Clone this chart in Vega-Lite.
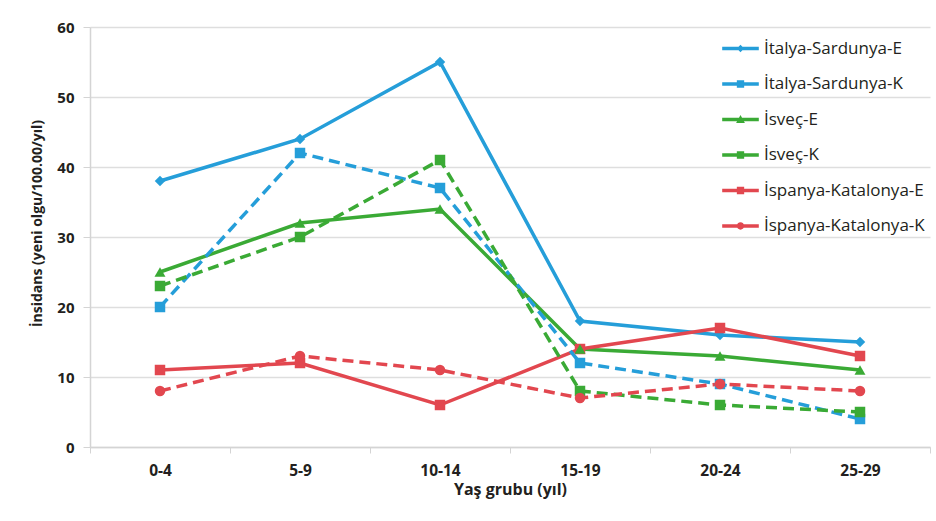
{
  "$schema": "https://vega.github.io/schema/vega-lite/v6.json",
  "width": 840,
  "height": 420,
  "autosize": {"type": "none"},
  "padding": {"left": 90, "top": 27, "right": 6, "bottom": 74},
  "background": "white",
  "config": {
    "font": "Open Sans",
    "view": {"stroke": null},
    "axis": {
      "labelFont": "Open Sans",
      "titleFont": "Open Sans",
      "labelColor": "#231f20",
      "titleColor": "#231f20",
      "labelFontWeight": "bold",
      "titleFontWeight": "bold",
      "domainColor": "#d4d4d4",
      "tickColor": "#d4d4d4",
      "gridColor": "#dedede",
      "gridWidth": 1.5
    }
  },
  "data": {
    "values": [
      {"yas": "0-4", "seri": "İtalya-Sardunya-E", "deger": 38},
      {"yas": "5-9", "seri": "İtalya-Sardunya-E", "deger": 44},
      {"yas": "10-14", "seri": "İtalya-Sardunya-E", "deger": 55},
      {"yas": "15-19", "seri": "İtalya-Sardunya-E", "deger": 18},
      {"yas": "20-24", "seri": "İtalya-Sardunya-E", "deger": 16},
      {"yas": "25-29", "seri": "İtalya-Sardunya-E", "deger": 15},
      {"yas": "0-4", "seri": "İtalya-Sardunya-K", "deger": 20},
      {"yas": "5-9", "seri": "İtalya-Sardunya-K", "deger": 42},
      {"yas": "10-14", "seri": "İtalya-Sardunya-K", "deger": 37},
      {"yas": "15-19", "seri": "İtalya-Sardunya-K", "deger": 12},
      {"yas": "20-24", "seri": "İtalya-Sardunya-K", "deger": 9},
      {"yas": "25-29", "seri": "İtalya-Sardunya-K", "deger": 4},
      {"yas": "0-4", "seri": "İsveç-E", "deger": 25},
      {"yas": "5-9", "seri": "İsveç-E", "deger": 32},
      {"yas": "10-14", "seri": "İsveç-E", "deger": 34},
      {"yas": "15-19", "seri": "İsveç-E", "deger": 14},
      {"yas": "20-24", "seri": "İsveç-E", "deger": 13},
      {"yas": "25-29", "seri": "İsveç-E", "deger": 11},
      {"yas": "0-4", "seri": "İsveç-K", "deger": 23},
      {"yas": "5-9", "seri": "İsveç-K", "deger": 30},
      {"yas": "10-14", "seri": "İsveç-K", "deger": 41},
      {"yas": "15-19", "seri": "İsveç-K", "deger": 8},
      {"yas": "20-24", "seri": "İsveç-K", "deger": 6},
      {"yas": "25-29", "seri": "İsveç-K", "deger": 5},
      {"yas": "0-4", "seri": "İspanya-Katalonya-E", "deger": 11},
      {"yas": "5-9", "seri": "İspanya-Katalonya-E", "deger": 12},
      {"yas": "10-14", "seri": "İspanya-Katalonya-E", "deger": 6},
      {"yas": "15-19", "seri": "İspanya-Katalonya-E", "deger": 14},
      {"yas": "20-24", "seri": "İspanya-Katalonya-E", "deger": 17},
      {"yas": "25-29", "seri": "İspanya-Katalonya-E", "deger": 13},
      {"yas": "0-4", "seri": "İspanya-Katalonya-K", "deger": 8},
      {"yas": "5-9", "seri": "İspanya-Katalonya-K", "deger": 13},
      {"yas": "10-14", "seri": "İspanya-Katalonya-K", "deger": 11},
      {"yas": "15-19", "seri": "İspanya-Katalonya-K", "deger": 7},
      {"yas": "20-24", "seri": "İspanya-Katalonya-K", "deger": 9},
      {"yas": "25-29", "seri": "İspanya-Katalonya-K", "deger": 8}
    ]
  },
  "encoding": {
    "x": {
      "field": "yas",
      "type": "ordinal",
      "sort": ["0-4", "5-9", "10-14", "15-19", "20-24", "25-29"],
      "scale": {"type": "band", "paddingInner": 0, "paddingOuter": 0},
      "axis": {
        "title": "Yaş grubu (yıl)",
        "labelAngle": 0,
        "labelFontSize": 15.5,
        "titleFontSize": 16,
        "labelPadding": 10,
        "titlePadding": 3,
        "tickBand": "extent",
        "tickSize": 6,
        "domainWidth": 1.5,
        "grid": false
      }
    },
    "y": {
      "field": "deger",
      "type": "quantitative",
      "scale": {"domain": [0, 60]},
      "axis": {
        "title": "İnsidans (yeni olgu/100.00/yıl)",
        "values": [0, 10, 20, 30, 40, 50, 60],
        "labelFontSize": 15,
        "titleFontSize": 14,
        "titleY": 196,
        "labelPadding": 9,
        "titlePadding": 12,
        "tickSize": 7,
        "domainWidth": 1.5
      }
    },
    "color": {
      "field": "seri",
      "type": "nominal",
      "scale": {
        "domain": ["İtalya-Sardunya-E", "İtalya-Sardunya-K", "İsveç-E", "İsveç-K", "İspanya-Katalonya-E", "İspanya-Katalonya-K"],
        "range": ["#259ed9", "#259ed9", "#3aaa35", "#3aaa35", "#e2474f", "#e2474f"]
      },
      "legend": {
        "title": null,
        "orient": "none",
        "legendX": 632,
        "legendY": 3,
        "symbolSize": 1340,
        "symbolStrokeWidth": 0,
        "symbolOpacity": 1,
        "labelFont": "Open Sans",
        "labelFontSize": 17,
        "labelLimit": 300,
        "labelColor": "#231f20",
        "labelOffset": 5,
        "rowPadding": 8.5,
        "encode": {
          "symbols": {
            "update": {
              "shape": {
                "signal": "datum.value === 'İtalya-Sardunya-E' ? 'M-1,-0.095H1V0.095H-1Z M0,-0.2L0.2,0L0,0.2L-0.2,0Z' : datum.value === 'İsveç-E' ? 'M-1,-0.095H1V0.095H-1Z M0,-0.24L0.24,0.19H-0.24Z' : datum.value === 'İspanya-Katalonya-K' ? 'M-1,-0.095H1V0.095H-1Z M-0.2,0A0.2,0.2 0 1,1 0.2,0A0.2,0.2 0 1,1 -0.2,0Z' : 'M-1,-0.095H1V0.095H-1Z M-0.2,-0.2H0.2V0.2H-0.2Z'"
              },
              "strokeDash": {"value": [1, 0]}
            }
          }
        }
      }
    }
  },
  "layer": [
    {
      "transform": [{"filter": {"field": "seri", "oneOf": ["İtalya-Sardunya-E", "İsveç-E", "İspanya-Katalonya-E"]}}],
      "mark": {"type": "line", "strokeWidth": 3.5}
    },
    {
      "transform": [{"filter": {"field": "seri", "oneOf": ["İtalya-Sardunya-K", "İsveç-K", "İspanya-Katalonya-K"]}}],
      "mark": {"type": "line", "strokeWidth": 3.5, "strokeDash": [11, 6]}
    },
    {
      "transform": [{"filter": {"field": "seri", "equal": "İtalya-Sardunya-E"}}],
      "mark": {"type": "point", "shape": "diamond", "filled": true, "opacity": 1, "size": 110}
    },
    {
      "transform": [{"filter": {"field": "seri", "oneOf": ["İtalya-Sardunya-K", "İsveç-K", "İspanya-Katalonya-E"]}}],
      "mark": {"type": "point", "shape": "square", "filled": true, "opacity": 1, "size": 110}
    },
    {
      "transform": [{"filter": {"field": "seri", "equal": "İsveç-E"}}],
      "mark": {"type": "point", "shape": "triangle-up", "filled": true, "opacity": 1, "size": 120}
    },
    {
      "transform": [{"filter": {"field": "seri", "equal": "İspanya-Katalonya-K"}}],
      "mark": {"type": "point", "shape": "circle", "filled": true, "opacity": 1, "size": 110}
    }
  ]
}
